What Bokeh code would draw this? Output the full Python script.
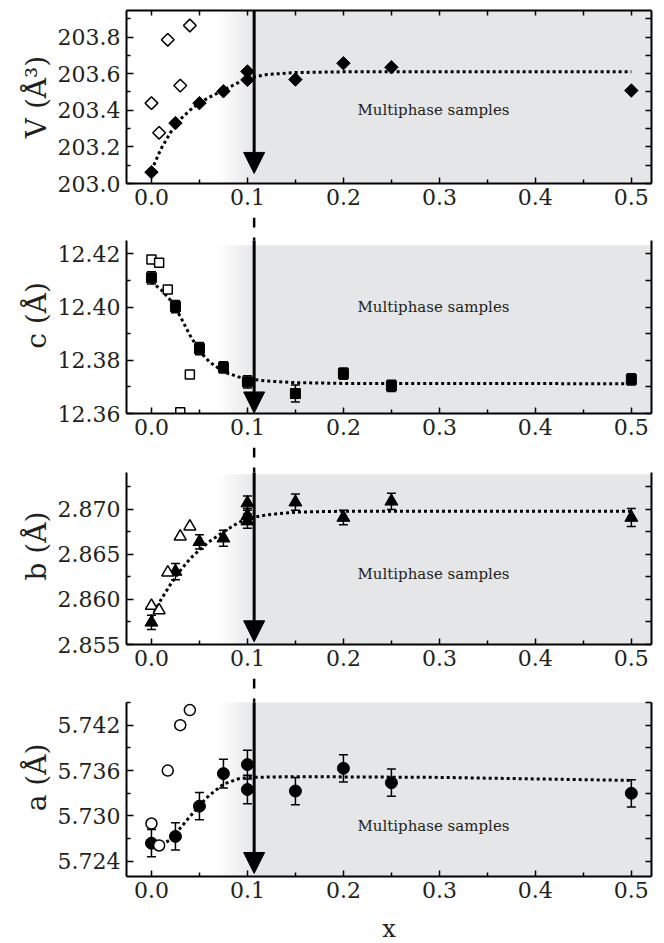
import numpy as np
from bokeh.plotting import figure
from bokeh.models import (ColumnDataSource, Whisker, TeeHead, Arrow, NormalHead, Label,
                          LinearAxis, FixedTicker, PrintfTickFormatter, Range1d)
from bokeh.layouts import column
from bokeh.embed import file_html
from bokeh.resources import INLINE

# ---------------- data ----------------
x_ticks = [0.0, 0.1, 0.2, 0.3, 0.4, 0.5]
x_minor = [0.05, 0.15, 0.25, 0.35, 0.45]

x_open = [0.0, 0.008, 0.017, 0.03, 0.04]

# Volume
V_x = [0.0, 0.025, 0.05, 0.075, 0.1, 0.1, 0.15, 0.2, 0.25, 0.5]
V_val = [203.062, 203.33, 203.439, 203.504, 203.612, 203.566, 203.568, 203.657, 203.635, 203.508]
V_open = [203.439, 203.277, 203.785, 203.535, 203.863]
V_fit_x = [0.0, 0.01, 0.02, 0.03, 0.04, 0.05, 0.06, 0.075, 0.09, 0.1, 0.12, 0.15, 0.2, 0.3, 0.5]
V_fit = [203.07, 203.19, 203.28, 203.35, 203.40, 203.44, 203.47, 203.51, 203.55, 203.575, 203.595, 203.606, 203.61, 203.61, 203.61]
V_ticks = [203.0, 203.2, 203.4, 203.6, 203.8]
V_minor = [203.1, 203.3, 203.5, 203.7, 203.9]

# c parameter
c_x = [0.0, 0.025, 0.05, 0.075, 0.1, 0.15, 0.2, 0.25, 0.5]
c_val = [12.411, 12.4002, 12.3844, 12.3773, 12.3719, 12.3675, 12.375, 12.3704, 12.3728]
c_err = [0.0023, 0.0023, 0.0023, 0.0021, 0.0023, 0.0032, 0.0021, 0.0021, 0.0021]
c_open = [12.4179, 12.4166, 12.4066, 12.3605, 12.3747]
c_fit_x = [0.0, 0.01, 0.02, 0.03, 0.04, 0.05, 0.06, 0.075, 0.09, 0.1, 0.12, 0.15, 0.2, 0.5]
c_fit = [12.4095, 12.4065, 12.4025, 12.3965, 12.3895, 12.3835, 12.3795, 12.3757, 12.3738, 12.373, 12.3722, 12.3716, 12.3713, 12.3712]
c_ticks = [12.36, 12.38, 12.40, 12.42]
c_minor = [12.37, 12.39, 12.41]

# b parameter
b_x = [0.0, 0.025, 0.05, 0.075, 0.1, 0.1, 0.1, 0.15, 0.2, 0.25, 0.5]
b_val = [2.85746, 2.8631, 2.8664, 2.8668, 2.8707, 2.8693, 2.8687, 2.8708, 2.8691, 2.8709, 2.8691]
b_err = [0.0008, 0.0009, 0.0008, 0.0009, 0.0008, 0.0008, 0.0008, 0.0009, 0.0008, 0.0009, 0.001]
b_open = [2.8593, 2.8588, 2.8630, 2.8670, 2.8681]
b_fit_x = [0.0, 0.01, 0.02, 0.03, 0.04, 0.05, 0.06, 0.075, 0.09, 0.1, 0.12, 0.15, 0.2, 0.5]
b_fit = [2.8580, 2.8600, 2.8617, 2.8632, 2.8645, 2.8655, 2.8664, 2.8675, 2.8685, 2.8690, 2.8694, 2.8697, 2.8698, 2.8698]
b_ticks = [2.855, 2.860, 2.865, 2.870]
b_minor = [2.8575, 2.8625, 2.8675, 2.8725]

# a parameter
a_x = [0.0, 0.025, 0.05, 0.075, 0.1, 0.1, 0.15, 0.2, 0.25, 0.5]
a_val = [5.7264, 5.7273, 5.7313, 5.7356, 5.7368, 5.7335, 5.7333, 5.7363, 5.7344, 5.7330]
a_err = [0.0018, 0.0018, 0.0018, 0.0019, 0.0019, 0.0019, 0.0018, 0.0018, 0.0018, 0.0018]
a_open = [5.7290, 5.7261, 5.7360, 5.7420, 5.7440]
a_fit_x = [0.005, 0.01, 0.02, 0.03, 0.04, 0.05, 0.06, 0.075, 0.09, 0.1, 0.15, 0.3, 0.5]
a_fit = [5.7257, 5.7261, 5.7269, 5.7284, 5.7299, 5.7314, 5.7327, 5.7342, 5.7349, 5.7351, 5.7352, 5.7351, 5.7347]
a_ticks = [5.724, 5.730, 5.736, 5.742]
a_minor = [5.727, 5.733, 5.739, 5.745]

# ---------------- style ----------------
FONT = "DejaVu Serif"
TXT = "#231f20"
XMIN, XMAX = -0.026, 0.521
X_ARROW = 0.107
GRAD_START = 0.069
GRAY = "#e5e6e8"
FRAME_W = 525


def hidden_label_axis(ticks, tick_len, bounds="auto"):
    return LinearAxis(ticker=FixedTicker(ticks=ticks), bounds=bounds,
                      major_label_text_font_size="1px", major_label_text_color=None,
                      major_label_text_alpha=0, major_label_standoff=0,
                      major_tick_in=tick_len, major_tick_out=0, minor_tick_in=0, minor_tick_out=0,
                      axis_line_width=2, major_tick_line_width=1.5)


def make_panel(ylim, yticks, yminor, yfmt, ylabel, fh, gap_px, top_b, bot_b, shade_top,
               text_y, arrow_tip, first=False, last=False):
    ylo, yhi = ylim
    span = yhi - ylo
    y_ext = yhi + gap_px * span / fh          # room above the frame for the dashed connector
    p = figure(frame_width=FRAME_W, frame_height=fh + gap_px,
               x_range=Range1d(XMIN, XMAX), y_range=Range1d(ylo, y_ext),
               output_backend="svg", toolbar_location=None,
               min_border_left=126, min_border_right=10,
               min_border_top=top_b, min_border_bottom=bot_b)
    p.outline_line_color = None
    p.xgrid.visible = False
    p.ygrid.visible = False
    p.background_fill_color = "white"
    p.border_fill_color = "white"

    # shaded multiphase region with gradient edge
    n = 18
    edges = np.linspace(GRAD_START, X_ARROW, n + 1)
    p.quad(left=edges[:-1], right=edges[1:], bottom=ylo, top=shade_top,
           fill_color=GRAY, fill_alpha=(np.arange(n) + 0.5) / n, line_color=None)
    p.quad(left=X_ARROW, right=XMAX + 0.01, bottom=ylo, top=shade_top,
           fill_color=GRAY, line_color=None)

    # dashed connector from the panel above
    if gap_px > 0:
        p.segment(x0=X_ARROW, y0=y_ext, x1=X_ARROW, y1=yhi, line_color="black",
                  line_width=2.5, line_dash="10 10")

    # x axis
    xa = p.xaxis[0]
    xa.ticker = FixedTicker(ticks=x_ticks, minor_ticks=x_minor)
    xa.formatter = PrintfTickFormatter(format="%.1f")
    xa.major_tick_in = 6
    xa.major_tick_out = 0
    xa.minor_tick_in = 4
    xa.minor_tick_out = 0
    xa.axis_line_width = 2
    xa.major_tick_line_width = 1.5
    xa.minor_tick_line_width = 1.5
    xa.major_label_text_font = FONT
    xa.major_label_text_font_size = "22px"
    xa.major_label_text_color = TXT
    xa.major_label_standoff = 5
    if last:
        xa.axis_label = "x"
        xa.axis_label_text_font = FONT
        xa.axis_label_text_font_size = "24px"
        xa.axis_label_text_font_style = "normal"
        xa.axis_label_text_color = TXT
        xa.axis_label_standoff = 14

    # y axis
    ya = p.yaxis[0]
    ya.bounds = (ylo, yhi)
    ya.ticker = FixedTicker(ticks=yticks, minor_ticks=yminor)
    ya.formatter = PrintfTickFormatter(format=yfmt)
    ya.major_tick_in = 7
    ya.major_tick_out = 0
    ya.minor_tick_in = 4
    ya.minor_tick_out = 0
    ya.axis_line_width = 2
    ya.major_tick_line_width = 1.5
    ya.minor_tick_line_width = 1.5
    ya.major_label_text_font = FONT
    ya.major_label_text_font_size = "22px"
    ya.major_label_text_color = TXT
    ya.major_label_standoff = 6
    ya.axis_label = ylabel
    ya.axis_label_text_font = FONT
    ya.axis_label_text_font_size = "28px"
    ya.axis_label_text_font_style = "normal"
    ya.axis_label_text_color = TXT
    ya.axis_label_standoff = 2

    # right axis (ticks only)
    p.add_layout(hidden_label_axis(sorted(yticks + yminor), 6, bounds=(ylo, yhi)), "right")
    if first:
        p.add_layout(hidden_label_axis(sorted(x_ticks + x_minor), 5), "above")

    # arrow
    p.add_layout(Arrow(end=NormalHead(size=21, fill_color="black", line_color="black", line_width=1),
                       x_start=X_ARROW, y_start=yhi, x_end=X_ARROW, y_end=arrow_tip,
                       line_width=3, line_color="black"))

    p.add_layout(Label(x=0.2146, y=text_y, text="Multiphase samples", text_font=FONT,
                       text_font_size="15px", text_baseline="middle", text_align="left",
                       text_color=TXT))
    return p


def add_whiskers(p, src):
    p.add_layout(Whisker(base="x", lower="lo", upper="hi", source=src, line_width=1.5,
                         level="annotation",
                         lower_head=TeeHead(size=9, line_width=1.5),
                         upper_head=TeeHead(size=9, line_width=1.5)))


# ---- V panel
p1 = make_panel((203.0, 203.945), V_ticks, V_minor, "%.1f", "V (Å³)", 173, 0, 10, 34,
                203.945, 203.399, 203.055, first=True)
p1.line(V_fit_x, V_fit, line_color="black", line_width=3, line_dash="3 3")
p1.scatter(V_x, V_val, marker="square", angle=np.pi / 4, size=9.5,
           fill_color="black", line_color="black")
p1.scatter(x_open, V_open, marker="square", angle=np.pi / 4, size=9,
           fill_color="white", line_color="black", line_width=1.5)

# ---- c panel
p2 = make_panel((12.36, 12.425), c_ticks, c_minor, "%.2f", "c (Å)", 173, 23, 0, 34,
                12.4232, 12.40, 12.3602)
src_c = ColumnDataSource(dict(x=c_x, y=c_val,
                              lo=[v - e for v, e in zip(c_val, c_err)],
                              hi=[v + e for v, e in zip(c_val, c_err)]))
p2.line(c_fit_x, c_fit, line_color="black", line_width=3, line_dash="3 3")
p2.scatter("x", "y", source=src_c, marker="square", size=10, fill_color="black", line_color="black")
p2.scatter(x_open, c_open, marker="square", size=9, fill_color="white", line_color="black", line_width=1.5)
add_whiskers(p2, src_c)

# ---- b panel
p3 = make_panel((2.855, 2.8741), b_ticks, b_minor, "%.3f", "b (Å)", 172, 25, 0, 34,
                2.8739, 2.86287, 2.8553)
src_b = ColumnDataSource(dict(x=b_x, y=b_val,
                              lo=[v - e for v, e in zip(b_val, b_err)],
                              hi=[v + e for v, e in zip(b_val, b_err)]))
p3.line(b_fit_x, b_fit, line_color="black", line_width=3, line_dash="3 3")
p3.scatter("x", "y", source=src_b, marker="triangle", size=13, fill_color="black", line_color="black")
p3.scatter(x_open, b_open, marker="triangle", size=12, fill_color="white", line_color="black", line_width=1.5)
add_whiskers(p3, src_b)

# ---- a panel
p4 = make_panel((5.722, 5.745), a_ticks, a_minor, "%.3f", "a (Å)", 174, 24, 0, 65,
                5.745, 5.72864, 5.7224, last=True)
src_a = ColumnDataSource(dict(x=a_x, y=a_val,
                              lo=[v - e for v, e in zip(a_val, a_err)],
                              hi=[v + e for v, e in zip(a_val, a_err)]))
p4.line(a_fit_x, a_fit, line_color="black", line_width=3, line_dash="3 3")
p4.scatter("x", "y", source=src_a, marker="circle", size=12, fill_color="black", line_color="black")
p4.scatter(x_open, a_open, marker="circle", size=11, fill_color="white", line_color="black", line_width=1.5)
add_whiskers(p4, src_a)

layout = column(p1, p2, p3, p4, spacing=0)
open("out.html", "w").write(file_html(layout, INLINE))
